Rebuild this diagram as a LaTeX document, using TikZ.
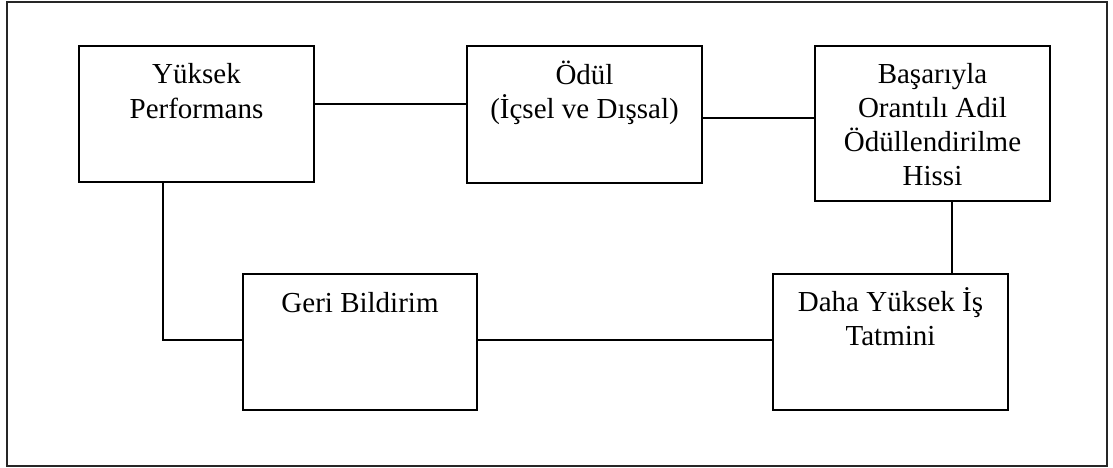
\documentclass[tikz,border=0pt]{standalone}
\usepackage{fontspec}
\setmainfont{Liberation Serif}
\begin{document}
\begin{tikzpicture}[x=1pt,y=-1pt,
  box/.style={draw=black,line width=2pt,inner sep=0pt},
  lbl/.style={anchor=base,align=center,inner sep=0pt,font=\fontsize{29}{34}\selectfont},
  conn/.style={draw=black,line width=2pt}]
\useasboundingbox (0,0) rectangle (1113,468);
\draw[line width=2.2pt,draw=black!85] (7,2) rectangle (1107,466);
% boxes
\node[box,minimum width=235pt,minimum height=136pt] (yp) at (196.5,114) {};
\node[box,minimum width=235pt,minimum height=137pt] (od) at (584.5,114.5) {};
\node[box,minimum width=235pt,minimum height=155pt] (ba) at (932.5,123.5) {};
\node[box,minimum width=234pt,minimum height=136pt] (gb) at (360,342) {};
\node[box,minimum width=235pt,minimum height=136pt] (dy) at (890.5,342) {};
% labels (base anchor = baseline of the last line)
\node[lbl] (ypt) at (196.5,118) {Yüksek\\Performans};
\node[lbl] (odt) at (584.5,119) {Ödül\\(İçsel ve Dışsal)};
\node[lbl] (bat) at (932.5,185) {Başarıyla\\Orantılı Adil\\Ödüllendirilme\\Hissi};
\node[lbl] (gbt) at (360,312) {Geri Bildirim};
\node[lbl] (dyt) at (890.5,345) {Daha Yüksek İş\\Tatmini};
% connectors
\coordinate (c1) at (0,104);
\coordinate (c2) at (0,118);
\coordinate (c3) at (952,0);
\coordinate (c4) at (163,340);
\draw[conn] (yp.east |- c1) -- (od.west |- c1);
\draw[conn] (od.east |- c2) -- (ba.west |- c2);
\draw[conn] (ba.south -| c3) -- (dy.north -| c3);
\draw[conn] (gb.east |- c4) -- (dy.west |- c4);
\draw[conn] (yp.south -| c4) -- (c4) -- (gb.west |- c4);
\end{tikzpicture}
\end{document}
